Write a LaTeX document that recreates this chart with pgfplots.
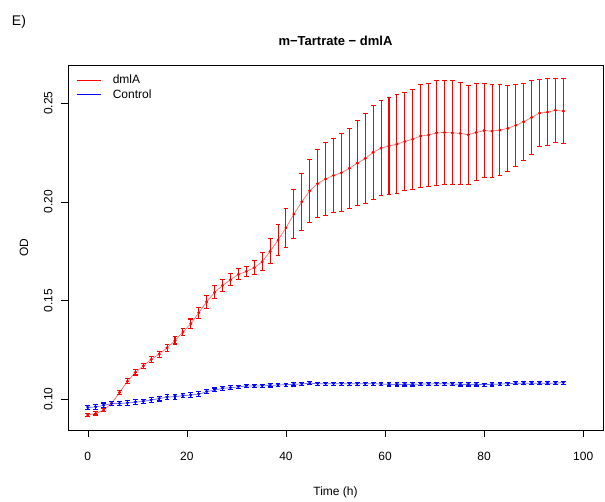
\documentclass[border=0pt]{standalone}
\usepackage{pgfplots}
\pgfplotsset{compat=1.18}
\usepackage{pgfplotstable}
\usepackage{fontspec}
\setmainfont{Liberation Sans}
\definecolor{rR}{RGB}{255,0,0}
\definecolor{bB}{RGB}{0,0,255}
\definecolor{rL}{RGB}{255,110,110}
\definecolor{bL}{RGB}{110,110,255}

\pgfplotstableread{
t r re b be
0 0.0919 0.0008 0.0957 0.0012
1.6 0.0927 0.0008 0.0960 0.0012
3.2 0.0944 0.0009 0.0968 0.0012
4.8 0.0978 0.0010 0.0977 0.0012
6.4 0.1033 0.0011 0.0977 0.0012
8 0.1090 0.0012 0.0980 0.0012
9.6 0.1135 0.0013 0.0984 0.0012
11.2 0.1168 0.0013 0.0988 0.0012
12.8 0.1201 0.0014 0.0995 0.0012
14.4 0.1228 0.0015 0.1002 0.0012
16 0.1259 0.0016 0.1010 0.0012
17.6 0.1297 0.0018 0.1012 0.0012
19.2 0.1340 0.0020 0.1017 0.0011
20.8 0.1382 0.0024 0.1020 0.0011
22.4 0.1438 0.0028 0.1025 0.0011
24 0.1493 0.0032 0.1037 0.0011
25.6 0.1541 0.0033 0.1046 0.0010
27.2 0.1576 0.0032 0.1054 0.0010
28.8 0.1605 0.0030 0.1057 0.0010
30.4 0.1632 0.0028 0.1062 0.0009
32 0.1647 0.0027 0.1066 0.0009
33.6 0.1666 0.0035 0.1066 0.0009
35.2 0.1696 0.0045 0.1067 0.0008
36.8 0.1749 0.0063 0.1069 0.0008
38.4 0.1806 0.0080 0.1071 0.0008
40 0.1868 0.0099 0.1073 0.0008
41.6 0.1938 0.0123 0.1074 0.0008
43.2 0.2000 0.0143 0.1077 0.0008
44.8 0.2056 0.0160 0.1080 0.0008
46.4 0.2093 0.0172 0.1078 0.0008
48 0.2116 0.0183 0.1078 0.0008
49.6 0.2134 0.0189 0.1078 0.0008
51.2 0.2148 0.0198 0.1078 0.0008
52.8 0.2170 0.0204 0.1078 0.0008
54.4 0.2196 0.0215 0.1078 0.0008
56 0.2220 0.0226 0.1078 0.0008
57.6 0.2251 0.0237 0.1078 0.0008
59.2 0.2273 0.0243 0.1076 0.0008
60.8 0.2283 0.0248 0.1074 0.0008
62.4 0.2293 0.0249 0.1074 0.0008
64 0.2306 0.0250 0.1074 0.0008
65.6 0.2318 0.0254 0.1074 0.0008
67.2 0.2334 0.0260 0.1076 0.0008
68.8 0.2339 0.0262 0.1076 0.0008
70.4 0.2350 0.0265 0.1078 0.0008
72 0.2352 0.0265 0.1078 0.0008
73.6 0.2350 0.0263 0.1076 0.0008
75.2 0.2347 0.0258 0.1074 0.0008
76.8 0.2340 0.0251 0.1074 0.0008
78.4 0.2352 0.0246 0.1074 0.0008
80 0.2361 0.0238 0.1073 0.0008
81.6 0.2359 0.0236 0.1074 0.0008
83.2 0.2364 0.0230 0.1076 0.0008
84.8 0.2373 0.0217 0.1078 0.0008
86.4 0.2388 0.0209 0.1080 0.0008
88 0.2406 0.0196 0.1080 0.0008
89.6 0.2428 0.0186 0.1080 0.0008
91.2 0.2450 0.0171 0.1080 0.0008
92.8 0.2455 0.0169 0.1080 0.0008
94.4 0.2464 0.0161 0.1081 0.0008
96 0.2460 0.0165 0.1083 0.0008
}\datatab

\begin{document}
\begin{tikzpicture}
\useasboundingbox (-68pt,-72pt) rectangle (537pt,430pt);
\fill[white] (-68pt,-72pt) rectangle (537pt,430pt);
\begin{axis}[
  at={(0pt,0pt)}, anchor=south west,
  scale only axis, width=535pt, height=365pt,
  xmin=-4, xmax=104, ymin=0.0843, ymax=0.2694,
  xtick={0,20,40,60,80,100},
  ytick={0.10,0.15,0.20,0.25},
  tick align=outside, tickpos=left,
  major tick length=7pt,
  every tick/.style={black, line width=0.6pt},
  axis line style={black, line width=0.6pt},
  /pgf/number format/assume math mode=true,
  tick label style={font=\fontsize{12}{14}\selectfont},
  yticklabel style={rotate=90, anchor=south, yshift=5pt, /pgf/number format/.cd, fixed, fixed zerofill, precision=2},
  xticklabel style={anchor=north, yshift=-12pt},
  legend cell align=left,
  legend style={draw=none, fill=none, at={(0,1)}, anchor=north west, xshift=6pt, yshift=-6pt,
    font=\fontsize{12}{14}\selectfont, row sep=0pt},
  legend image code/.code={\draw (0pt,0pt) -- (24pt,0pt); \path (33pt,0pt);},
  clip=false,
]
\addlegendimage{color=rR, line width=0.6pt}
\addlegendentry{dmlA}
\addlegendimage{color=bB, line width=0.6pt}
\addlegendentry{Control}

% connecting lines
\addplot[forget plot, color=rL, line width=0.7pt, no marks]
  table[x=t, y=r] {\datatab};
\addplot[forget plot, color=bL, line width=0.7pt, no marks]
  table[x=t, y=b] {\datatab};

% points with error bars
\addplot[forget plot, color=rR, only marks, mark=*, mark size=1.3pt,
  mark options={color=rR, fill=rR},
  error bars/.cd, y dir=both, y explicit,
  error bar style={color=rR, line width=1.05pt},
  error mark options={color=rR, mark size=2.4pt, line width=1.05pt, rotate=90}]
  table[x=t, y=r, y error=re] {\datatab};

\addplot[forget plot, color=bB, only marks, mark=triangle*, mark size=1.6pt,
  mark options={color=bB, fill=bB, rotate=180},
  error bars/.cd, y dir=both, y explicit,
  error bar style={color=bB, line width=1.05pt},
  error mark options={color=bB, mark size=2.4pt, line width=1.05pt, rotate=90}]
  table[x=t, y=b, y error=be] {\datatab};

\node[font=\bfseries\fontsize{13}{15}\selectfont] at ([yshift=24pt]rel axis cs:0.5,1) {m−Tartrate − dmlA};
\node[font=\fontsize{12}{14}\selectfont] at ([yshift=-62pt]rel axis cs:0.5,0) {Time (h)};
\node[font=\fontsize{12}{14}\selectfont, rotate=90] at ([xshift=-44pt]rel axis cs:0,0.5) {OD};
\node[font=\fontsize{14}{16}\selectfont] at ([xshift=-49pt, yshift=43pt]rel axis cs:0,1) {E)};
\end{axis}
\end{tikzpicture}
\end{document}
